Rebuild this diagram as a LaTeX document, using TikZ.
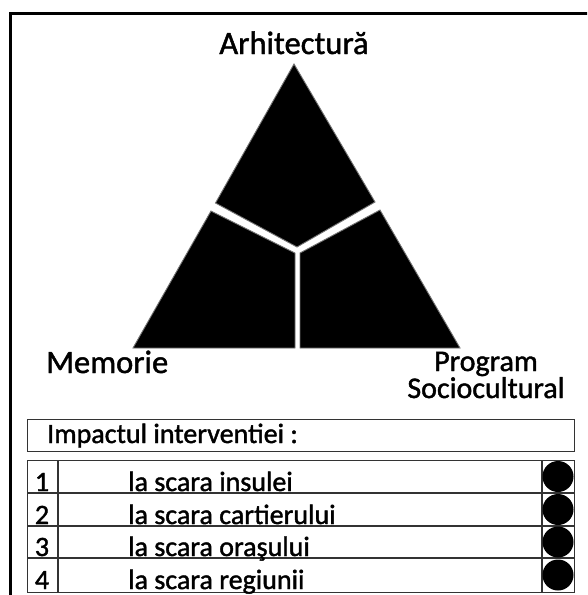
\documentclass[tikz,border=0pt]{standalone}
\usepackage{fontspec}
\setmainfont{Carlito}[FakeBold=1.4]
\begin{document}
\begin{tikzpicture}[x=1pt,y=-1pt,
  big/.style={inner sep=0pt, font=\fontsize{32.5}{38}\selectfont},
  mid/.style={inner sep=0pt, font=\fontsize{30}{24}\selectfont},
  txt/.style={inner sep=0pt, font=\fontsize{28}{32}\selectfont},
  piece/.style={fill=black, draw=black!55, line width=0.9pt, line join=miter},
  tabline/.style={draw=black!80, line width=1.3pt},
  dot/.style={circle, fill=black, inner sep=0pt, minimum size=31pt}]
\useasboundingbox (0,0) rectangle (587,595);
\clip (0,0) rectangle (587,595);
\fill[white] (0,0) rectangle (587,595);
% outer frame
\draw[line width=3pt] (10,640) -- (10,13) -- (640,13);
% triangle pieces
\draw[piece] (294,64) -- (215.5,203) -- (297,247) -- (375,202) -- cycle;
\draw[piece] (211,211) -- (295,253) -- (295,348) -- (133,348) -- cycle;
\draw[piece] (380,210) -- (300,253) -- (300,348) -- (460,348) -- cycle;
% labels
\node[big, anchor=base] (arh) at (294,54) {Arhitectură};
\node[big, anchor=base west] (mem) at (46,373) {Memorie};
\node[mid, anchor=base, align=center] (prog) at (486,398) {Program\hspace{24pt}\\Sociocultural};
% impact box
\node[tabline, anchor=north west, minimum width=547pt, minimum height=32pt, inner sep=0pt] (impbox) at (27,419) {};
\node[txt, anchor=base west] (imp) at (47,443) {Impactul interventiei :};
% table
\node[tabline, anchor=north west, minimum width=547pt, minimum height=132pt, inner sep=0pt] (tab) at (27,460) {};
\draw[tabline] (tab.west |- 0,493) -- (tab.east |- 0,493);
\draw[tabline] (tab.west |- 0,526) -- (tab.east |- 0,526);
\draw[tabline] (tab.west |- 0,558) -- (tab.east |- 0,558);
\draw[tabline] (58,0 |- tab.north) -- (58,0 |- tab.south);
\draw[tabline] (542,0 |- tab.north) -- (542,0 |- tab.south);
% rows
\node[txt, anchor=base] (n1) at (42,491) {1};
\node[txt, anchor=base] (n2) at (42,524) {2};
\node[txt, anchor=base] (n3) at (42,556) {3};
\node[txt, anchor=base] (n4) at (42,589) {4};
\node[txt, anchor=base west] (r1) at (128,491) {la scara insulei};
\node[txt, anchor=base west] (r2) at (128,524) {la scara cartierului};
\node[txt, anchor=base west] (r3) at (128,556) {la scara oraşului};
\node[txt, anchor=base west] (r4) at (128,589) {la scara regiunii};
\node[dot] (d1) at (558,476.5) {};
\node[dot] (d2) at (558,509.5) {};
\node[dot] (d3) at (558,542) {};
\node[dot] (d4) at (558,575) {};
\end{tikzpicture}
\end{document}
